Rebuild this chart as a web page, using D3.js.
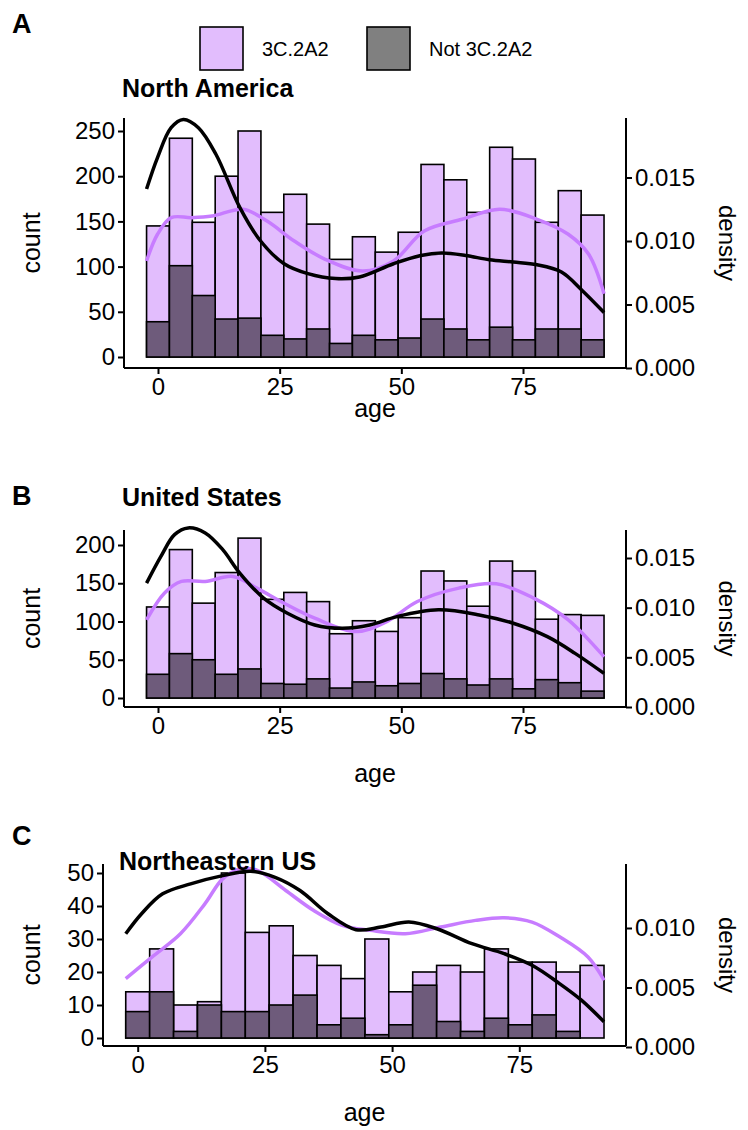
<!DOCTYPE html>
<html><head><meta charset="utf-8">
<script src="https://cdn.jsdelivr.net/npm/d3@7"></script>
<style>body{margin:0;background:#fff}text{font-family:Arial,"Liberation Sans",sans-serif}</style>
</head><body><svg id="c" width="748" height="1130"></svg>
<script>
const binStart = -2.35, binWidth = 4.7;
const ageTicks = [0, 25, 50, 75];
// Panel A: North America
const totalA = [145,242,149,200,250,160,180,147,108,133,116,138,213,196,160,232,219,149,184,157];
const darkA  = [39,101,68,42,43,24,20,31,15,24,19,21,42,31,19,33,19,31,31,19];
const blackAgesA = [-2.35,-0.1,2.7,5.2,8.3,11.9,16.8,21.0,25.9,30.8,36.5,41.4,48.4,54.0,58.3,63.2,68.1,73.0,77.9,82.9,87.1,91.65];
const blackDensA = [0.01409,0.01657,0.01892,0.01957,0.01892,0.01683,0.01265,0.01004,0.00821,0.00743,0.00704,0.00717,0.00821,0.00886,0.00905,0.00886,0.00852,0.00834,0.00813,0.00756,0.00613,0.00437];
const purpleAgesA = [-2.35,-0.1,2.7,6.9,11.15,17.5,22.4,28.0,34.35,42.1,48.4,54.7,62.5,70.2,77.9,84.3,88.5,91.65];
const purpleDensA = [0.00843,0.01053,0.01184,0.01184,0.01197,0.0125,0.01157,0.0100,0.00856,0.00764,0.00843,0.01079,0.01171,0.0125,0.01171,0.01053,0.00895,0.00585];
// Panel B: United States
const totalB = [119,194,124,164,209,129,138,126,84,101,87,105,166,153,120,179,166,103,109,108];
const darkB  = [31,58,50,31,38,19,18,25,13,21,16,19,32,25,17,25,12,24,20,9];
const blackAgesB = [-2.35,0.6,3.4,6.2,9.7,13.3,16.8,21.7,26.6,32.2,37.9,43.5,49.1,57.6,66.0,73.0,80.0,85.7,91.65];
const blackDensB = [0.01247,0.01516,0.01735,0.01803,0.01752,0.01584,0.01348,0.01096,0.00944,0.00826,0.00793,0.00826,0.0091,0.00978,0.00927,0.00843,0.00708,0.0054,0.00338];
const purpleAgesB = [-2.35,1.3,4.8,9.7,15.4,20.3,25.9,32.2,40.7,47.0,53.3,61.8,69.5,77.2,84.3,91.65];
const purpleDensB = [0.00877,0.01146,0.01264,0.01264,0.01314,0.01197,0.01045,0.00894,0.00759,0.0086,0.01062,0.01197,0.0124,0.01096,0.00877,0.00506];
// Panel C: Northeastern US
const totalC = [14,27,10,11,50,32,34,25,22,18,30,14,20,22,20,27,23,23,20,22];
const darkC  = [8,14,2,10,8,8,10,13,4,6,1,4,16,5,2,6,4,7,2,0];
const blackAgesC = [-2.35,0.76,4.9,10.4,16.7,22.2,27.0,31.9,37.4,42.9,47.8,53.3,58.8,65.7,72.0,77.5,82.9,87.2,91.65];
const blackDensC = [0.00952,0.0112,0.01287,0.01371,0.0144,0.01477,0.01426,0.01315,0.0112,0.00986,0.01008,0.0105,0.00994,0.00868,0.00785,0.00687,0.00533,0.00394,0.00212];
const purpleAgesC = [-2.35,2.8,8.4,13.2,16.7,20.1,23.6,29.1,34.6,40.2,45.7,52.6,59.5,66.4,72.0,77.5,83.0,88.5,91.65];
const purpleDensC = [0.00575,0.00756,0.00952,0.01203,0.01413,0.01497,0.01482,0.01315,0.01147,0.01022,0.0098,0.00952,0.01008,0.01064,0.01086,0.0105,0.00924,0.00756,0.00561];

const countTicksA=[0,50,100,150,200,250], countTicksB=[0,50,100,150,200], countTicksC=[0,10,20,30,40,50];
const densTicksA=[0,0.005,0.010,0.015], densTicksB=[0,0.005,0.010,0.015], densTicksC=[0,0.005,0.010];

const C_PURPLE="#e2bdfd", C_DARK="#6e5b7b", L_PURPLE="#c77cff";
const svg=d3.select("#c");

const panels=[
 {letter:"A",title:"North America",total:totalA,dark:darkA,ba:blackAgesA,bd:blackDensA,pa:purpleAgesA,pd:purpleDensA,
  ct:countTicksA,dt:densTicksA,left:124,right:626,top:118,axisY:368,cmax:250,cRange:[357,131],dmax:0.015,dRange:[368,177.5],x0:158,x75:523,letterY:33,titleY:97,titleX:122,ageY:417},
 {letter:"B",title:"United States",total:totalB,dark:darkB,ba:blackAgesB,bd:blackDensB,pa:purpleAgesB,pd:purpleDensB,
  ct:countTicksB,dt:densTicksB,left:124,right:626,top:530,axisY:707,cmax:200,cRange:[698,545],dmax:0.015,dRange:[707,558],x0:158,x75:523,letterY:505,titleY:506,titleX:122,ageY:782},
 {letter:"C",title:"Northeastern US",total:totalC,dark:darkC,ba:blackAgesC,bd:blackDensC,pa:purpleAgesC,pd:purpleDensC,
  ct:countTicksC,dt:densTicksC,left:103,right:626,top:864,axisY:1046,cmax:50,cRange:[1038,873],dmax:0.010,dRange:[1047,928],x0:137.7,x75:519.3,letterY:845,titleY:870,titleX:119,ageY:1121}
];

panels.forEach(p=>{
  const g=svg.append("g");
  const x=d3.scaleLinear().domain([0,75]).range([p.x0,p.x75]);
  const y=d3.scaleLinear().domain([0,p.cmax]).range(p.cRange);
  const yd=d3.scaleLinear().domain([0,p.dmax]).range(p.dRange);
  const bins=p.total.map((t,i)=>({x0:binStart+i*binWidth,x1:binStart+(i+1)*binWidth,t,d:p.dark[i]}));
  g.selectAll(".bt").data(bins).join("rect").attr("x",d=>x(d.x0)).attr("width",d=>x(d.x1)-x(d.x0))
    .attr("y",d=>y(d.t)).attr("height",d=>y(0)-y(d.t)).attr("fill",C_PURPLE).attr("stroke","#000").attr("stroke-width",1.6);
  g.selectAll(".bd").data(bins.filter(d=>d.d>0)).join("rect").attr("x",d=>x(d.x0)).attr("width",d=>x(d.x1)-x(d.x0))
    .attr("y",d=>y(d.d)).attr("height",d=>y(0)-y(d.d)).attr("fill",C_DARK).attr("stroke","#000").attr("stroke-width",1.6);
  const line=d3.line().x(d=>x(d[0])).y(d=>yd(d[1])).curve(d3.curveCatmullRom);
  g.append("path").attr("d",line(p.pa.map((a,i)=>[a,p.pd[i]]))).attr("fill","none").attr("stroke",L_PURPLE).attr("stroke-width",3.5);
  g.append("path").attr("d",line(p.ba.map((a,i)=>[a,p.bd[i]]))).attr("fill","none").attr("stroke","#000").attr("stroke-width",3.5);
  const ax=g.append("g").attr("transform",`translate(0,${p.axisY})`).call(d3.axisBottom(x).tickValues(ageTicks).tickSize(6).tickPadding(4));
  ax.select(".domain").attr("d",`M${p.left},0H${p.right}`);
  const ay=g.append("g").attr("transform",`translate(${p.left},0)`).call(d3.axisLeft(y).tickValues(p.ct).tickSize(6).tickPadding(3));
  ay.select(".domain").attr("d",`M0,${p.top}V${p.axisY}`);
  const ar=g.append("g").attr("transform",`translate(${p.right},0)`).call(d3.axisRight(yd).tickValues(p.dt).tickSize(6).tickPadding(3).tickFormat(d3.format(".3f")));
  ar.select(".domain").attr("d",`M0,${p.top}V${p.axisY}`);
  [ax,ay,ar].forEach(a=>{a.selectAll("text").attr("font-size",24).attr("fill","#000").style("font-family","Arial, Liberation Sans");
     a.selectAll("line,.domain").attr("stroke","#000").attr("stroke-width",2);});
  const my=(p.top+p.axisY)/2;
  g.append("text").attr("transform",`translate(40,${my}) rotate(-90)`).attr("text-anchor","middle").attr("font-size",25).text("count");
  g.append("text").attr("transform",`translate(719,${my}) rotate(90)`).attr("text-anchor","middle").attr("font-size",24).text("density");
  g.append("text").attr("x",(p.left+p.right)/2).attr("y",p.ageY).attr("text-anchor","middle").attr("font-size",25).text("age");
  g.append("text").attr("x",12).attr("y",p.letterY).attr("font-size",27).attr("font-weight","bold").text(p.letter);
  g.append("text").attr("x",p.titleX).attr("y",p.titleY).attr("font-size",25).attr("font-weight","bold").text(p.title);
});
const leg=[{k:"3C.2A2",c:C_PURPLE,x:200},{k:"Not 3C.2A2",c:"#808080",x:367}];
leg.forEach(l=>{
  svg.append("rect").attr("x",l.x).attr("y",27).attr("width",43).attr("height",43).attr("fill",l.c).attr("stroke","#000").attr("stroke-width",1.6);
  svg.append("text").attr("x",l.x+62).attr("y",56).attr("font-size",20).text(l.k);
});
</script></body></html>
